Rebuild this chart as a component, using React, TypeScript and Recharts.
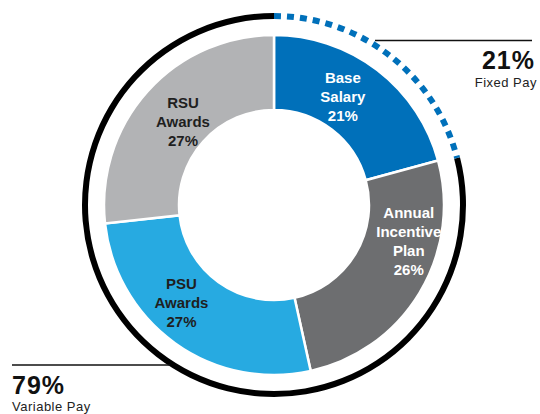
import { PieChart, Pie, Cell } from 'recharts';

// pay mix slices, clockwise from 12 o'clock
const slices = ['Base Salary', 'Annual Incentive Plan', 'PSU Awards', 'RSU Awards'];
const shares = [21, 26, 27, 27];
const sliceLines = [
  ['Base', 'Salary', '21%'],
  ['Annual', 'Incentive', 'Plan', '26%'],
  ['PSU', 'Awards', '27%'],
  ['RSU', 'Awards', '27%'],
];

// outer ring: fixed vs variable
const ringNames = ['Fixed Pay', 'Variable Pay'];
const ringShares = [21, 79];

const mixData = slices.map((name, i) => ({ name, value: shares[i] }));
const ringData = ringNames.map((name, i) => ({ name, value: ringShares[i] }));

const COLORS = ['#0070BA', '#6D6E70', '#27AAE1', '#B2B3B5'];
const TEXT_COLORS = ['#ffffff', '#ffffff', '#1f1f1f', '#1f1f1f'];
// hand placement tweaks for the slice labels
const NUDGE: Record<string, [number, number]> = {
  'Base Salary': [-12, -3],
  'Annual Incentive Plan': [21, -33],
  'PSU Awards': [-15, -11],
  'RSU Awards': [8, 5],
};

const RAD = Math.PI / 180;
const FONT = '"Liberation Sans", Arial, Helvetica, sans-serif';

function SliceLabel(props: any) {
  const { cx, cy, midAngle, index, name } = props;
  const r = 133;
  const nudge = NUDGE[name] || [0, 0];
  const x = cx + r * Math.cos(-midAngle * RAD) + nudge[0];
  const y = cy + r * Math.sin(-midAngle * RAD) + nudge[1];
  const lines = sliceLines[index];
  const pitch = 19;
  const top = y - ((lines.length - 1) * pitch) / 2;
  return (
    <text
      x={x}
      y={top}
      textAnchor="middle"
      dominantBaseline="central"
      fill={TEXT_COLORS[index]}
      fontFamily={FONT}
      fontWeight="bold"
      fontSize={15}
    >
      {lines.map((l, i) => (
        <tspan key={i} x={x} y={top + i * pitch}>
          {l}
        </tspan>
      ))}
    </text>
  );
}

// dotted arc for the fixed part of the outer ring
function RingLabel(props: any) {
  const { cx, cy, startAngle, endAngle, innerRadius, outerRadius, index } = props;
  if (index !== 0) return null;
  const r = (innerRadius + outerRadius) / 2;
  const p = (a: number) => [cx + r * Math.cos(-a * RAD), cy + r * Math.sin(-a * RAD)];
  const [x1, y1] = p(startAngle);
  const [x2, y2] = p(endAngle);
  const large = Math.abs(endAngle - startAngle) > 180 ? 1 : 0;
  return (
    <path
      d={`M${x1},${y1} A${r},${r} 0 ${large} 1 ${x2},${y2}`}
      fill="none"
      stroke="#0070BA"
      strokeWidth={outerRadius - innerRadius}
      strokeDasharray="7 6"
    />
  );
}

export default function App() {
  return (
    <div style={{ position: 'absolute', left: 0, top: 0, width: 540, height: 414, background: '#fff' }}>
      <PieChart width={540} height={414} margin={{ top: 0, right: 0, bottom: 0, left: 0 }}>
        <Pie
          data={ringData}
          dataKey="value"
          cx={274}
          cy={205}
          innerRadius={186}
          outerRadius={192}
          startAngle={90}
          endAngle={-270}
          stroke="none"
          label={RingLabel}
          labelLine={false}
          isAnimationActive={false}
        >
          <Cell fill="none" />
          <Cell fill="#000000" />
        </Pie>
        <Pie
          data={mixData}
          dataKey="value"
          cx={274}
          cy={205}
          innerRadius={95}
          outerRadius={170}
          startAngle={90}
          endAngle={-270}
          stroke="#ffffff"
          strokeWidth={2.5}
          label={SliceLabel}
          labelLine={false}
          isAnimationActive={false}
        >
          {mixData.map((d, i) => (
            <Cell key={d.name} fill={COLORS[i]} />
          ))}
        </Pie>
      </PieChart>
      <svg
        width={540}
        height={414}
        style={{ position: 'absolute', left: 0, top: 0, pointerEvents: 'none' }}
      >
        <line x1={375} y1={40.5} x2={532} y2={40.5} stroke="#111" strokeWidth={1.5} />
        <text x={535} y={69} textAnchor="end" fontFamily={FONT} fontWeight="bold" fontSize={25} letterSpacing={1} fill="#111">
          21%
        </text>
        <text x={537} y={87} textAnchor="end" fontFamily={FONT} fontSize={13} letterSpacing={0.5} fill="#222">
          Fixed Pay
        </text>
        <line x1={12} y1={365} x2={170} y2={365} stroke="#111" strokeWidth={1.5} />
        <text x={12} y={394} fontFamily={FONT} fontWeight="bold" fontSize={25} letterSpacing={1} fill="#111">
          79%
        </text>
        <text x={12} y={411} fontFamily={FONT} fontSize={13} letterSpacing={0.5} fill="#222">
          Variable Pay
        </text>
      </svg>
    </div>
  );
}
